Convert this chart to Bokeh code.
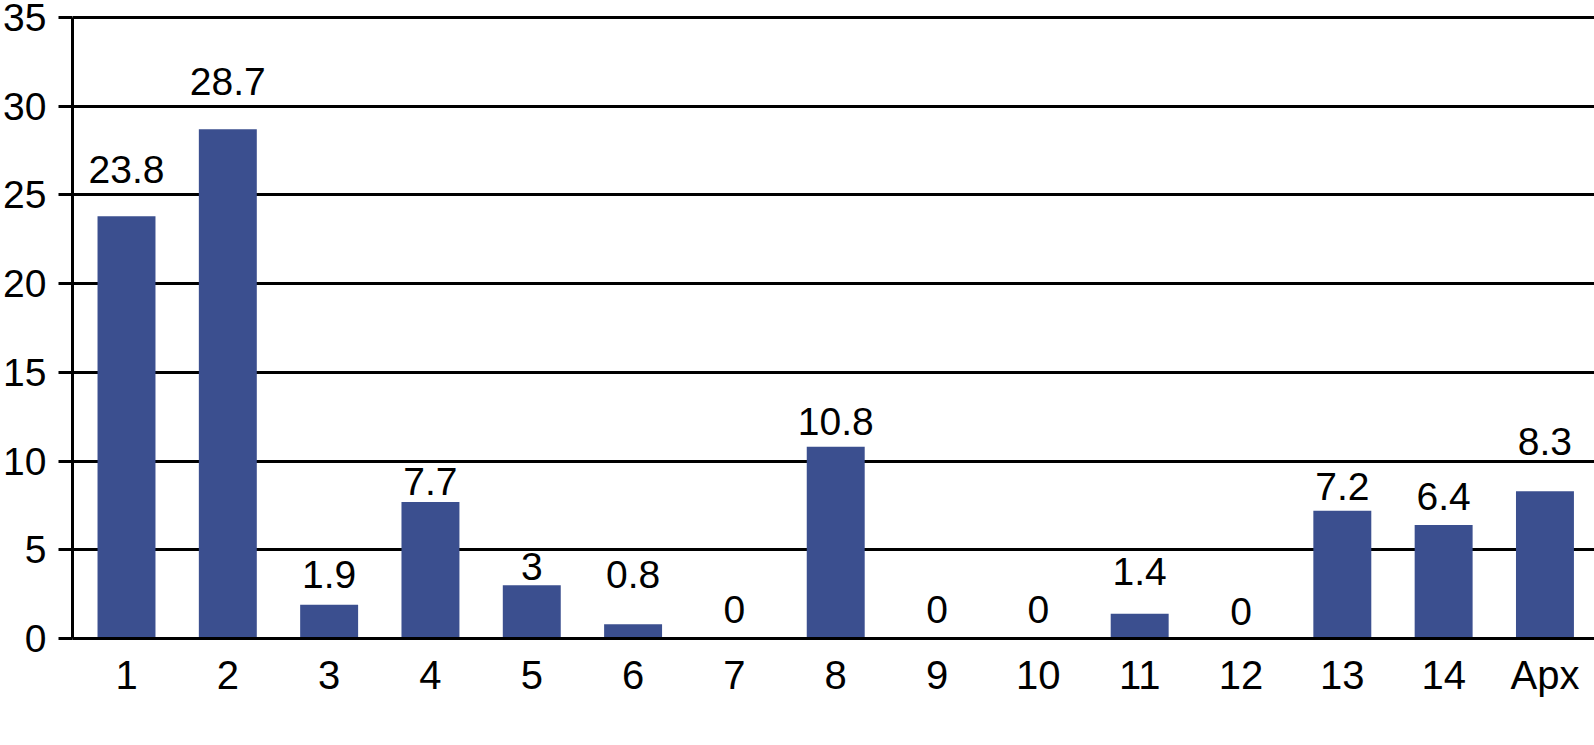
from bokeh.plotting import figure
from bokeh.models import ColumnDataSource, FixedTicker, Range1d
from bokeh.core.properties import value
from bokeh.embed import file_html
from bokeh.resources import INLINE

# --- data ---
categories = ["1", "2", "3", "4", "5", "6", "7", "8", "9", "10", "11", "12", "13", "14", "Apx"]
values = [23.8, 28.7, 1.9, 7.7, 3, 0.8, 0, 10.8, 0, 0, 1.4, 0, 7.2, 6.4, 8.3]
value_labels = ["23.8", "28.7", "1.9", "7.7", "3", "0.8", "0", "10.8", "0", "0", "1.4", "0", "7.2", "6.4", "8.3"]
y_ticks = [0, 5, 10, 15, 20, 25, 30, 35]

# label gap above the bar top (screen px), as placed in the original
label_gap_px = [33, 34, 16, 6, 5, 36, 15, 11, 15, 15, 28, 13, 10, 14, 36]

W, H = 1594, 745
TOP, BOTTOM, LEFT = 9, 107, 72
Y_MAX = 35.45
ppu = (H - TOP - BOTTOM) / Y_MAX  # screen px per data unit
BASELINE_FIX = 14  # svg text renders this many px below the requested baseline

positions = list(range(1, len(categories) + 1))
label_y = [v + (g + BASELINE_FIX) / ppu for v, g in zip(values, label_gap_px)]
src = ColumnDataSource(dict(x=positions, top=values, label=value_labels, ly=label_y))

FONT = "Liberation Sans"
BLUE = "#3B4F8F"

p = figure(
    width=W, height=H,
    x_range=Range1d(0.467, 15.489), y_range=Range1d(0, Y_MAX),
    output_backend="svg", toolbar_location=None,
    min_border_left=LEFT, min_border_right=0, min_border_top=TOP, min_border_bottom=BOTTOM,
)
p.outline_line_color = None
p.background_fill_color = "white"

p.vbar(x="x", top="top", width=0.572, bottom=0, source=src,
       fill_color=BLUE, line_color=None)

p.text(x="x", y="ly", text="label", source=src,
       text_align="center", text_baseline="alphabetic",
       text_font=value(FONT), text_font_size="39px", text_color="black")

# grid
p.xgrid.visible = False
p.ygrid.grid_line_color = "black"
p.ygrid.grid_line_width = 3
p.ygrid.ticker = FixedTicker(ticks=y_ticks)

# y axis
ya = p.yaxis[0]
ya.ticker = FixedTicker(ticks=y_ticks)
ya.bounds = (0, 35)
ya.axis_line_color = "black"
ya.axis_line_width = 3
ya.major_tick_line_color = "black"
ya.major_tick_line_width = 3
ya.major_tick_out = 14
ya.major_tick_in = 0
ya.minor_tick_line_color = None
ya.major_label_standoff = 12
ya.major_label_text_font = FONT
ya.major_label_text_font_size = "39px"
ya.major_label_text_color = "black"

# x axis
xa = p.xaxis[0]
xa.ticker = FixedTicker(ticks=positions)
xa.major_label_overrides = {pos: c for pos, c in zip(positions, categories)}
xa.axis_line_color = "black"
xa.axis_line_width = 3
xa.major_tick_line_color = None
xa.major_tick_out = 0
xa.major_tick_in = 0
xa.minor_tick_line_color = None
xa.major_label_standoff = 14
xa.major_label_text_font = FONT
xa.major_label_text_font_size = "40px"
xa.major_label_text_color = "black"

open("out.html", "w").write(file_html(p, INLINE))
